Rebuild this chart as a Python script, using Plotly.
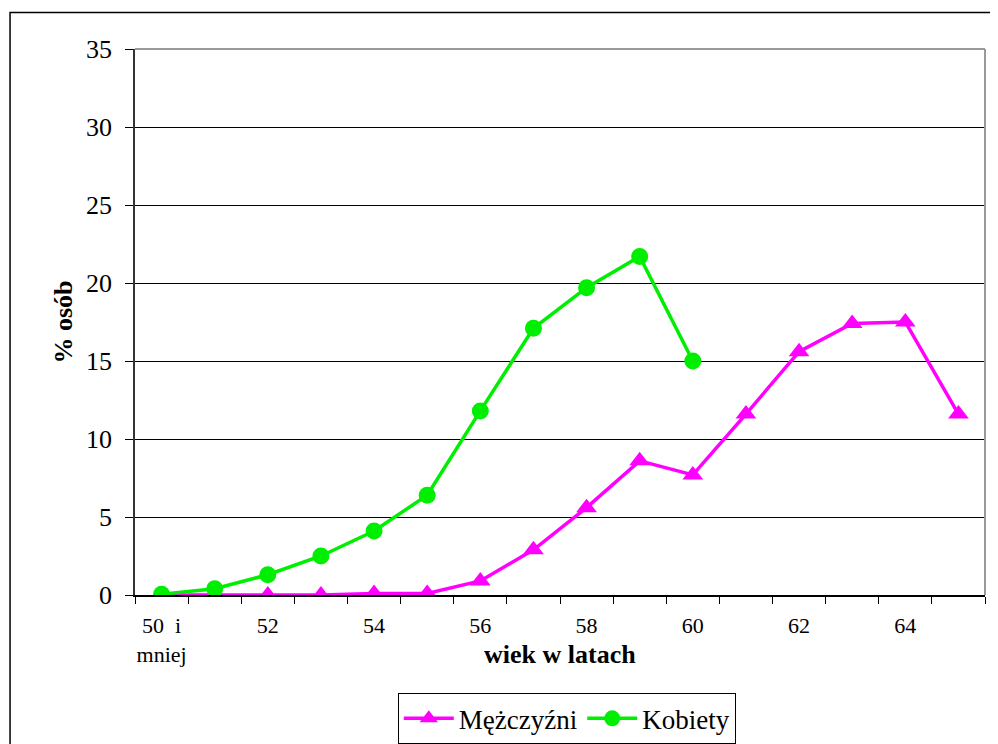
import plotly.graph_objects as go

# age categories (x axis)
wiek = ['50 i mniej'] + [str(a) for a in range(51, 66)]
tick_text = ['50  i<br>mniej', '', '52', '', '54', '', '56', '', '58', '',
             '60', '', '62', '', '64', '']

# % of persons
mezczyzni = [0.0, 0.0, 0.0, 0.0, 0.1, 0.1, 0.9, 2.9, 5.6, 8.6,
             7.7, 11.6, 15.6, 17.4, 17.5, 11.6]
kobiety = [0.05, 0.4, 1.3, 2.5, 4.1, 6.4, 11.8, 17.1, 19.7, 21.7, 15.0]

font_family = 'Times New Roman, Liberation Serif, serif'

fig = go.Figure()
fig.add_trace(go.Scatter(
    x=wiek, y=mezczyzni, name='Mężczyźni', mode='lines+markers',
    line={'color': '#FF00FF', 'width': 3.5},
    marker={'symbol': 'triangle-up', 'size': 18, 'color': '#FF00FF'},
))
fig.add_trace(go.Scatter(
    x=wiek[:len(kobiety)], y=kobiety, name='Kobiety', mode='lines+markers',
    line={'color': '#00EE00', 'width': 3.5},
    marker={'symbol': 'circle', 'size': 17, 'color': '#00EE00'},
))

# page body has an 8px margin, so margins are shifted accordingly
fig.update_layout(
    width=998, height=744,
    margin={'l': 127, 'r': 21, 't': 41, 'b': 157, 'autoexpand': False},
    plot_bgcolor='#FFFFFF', paper_bgcolor='#FFFFFF',
    font={'family': font_family, 'color': '#000000', 'size': 22},
    showlegend=True,
    legend={'orientation': 'h', 'x': 0.508, 'xanchor': 'center',
            'y': -0.18, 'yanchor': 'top',
            'bordercolor': '#000000', 'borderwidth': 1,
            'font': {'size': 27, 'family': font_family},
            'itemwidth': 50, 'tracegroupgap': 0},
    annotations=[
        {'text': '<b>wiek w latach</b>', 'xref': 'paper', 'yref': 'paper',
         'x': 0.5, 'y': -0.109, 'xanchor': 'center', 'yanchor': 'middle',
         'showarrow': False, 'font': {'size': 26}},
    ],
    shapes=[
        # outer frame
        {'type': 'rect', 'xref': 'paper', 'yref': 'paper',
         'x0': -0.147, 'x1': 1.05, 'y0': -0.3, 'y1': 1.067,
         'line': {'color': '#000000', 'width': 1.5}},
        # grey plot border (top and right)
        {'type': 'line', 'xref': 'paper', 'yref': 'paper',
         'x0': 0, 'x1': 1, 'y0': 1, 'y1': 1,
         'line': {'color': '#999999', 'width': 2}},
        {'type': 'line', 'xref': 'paper', 'yref': 'paper',
         'x0': 1, 'x1': 1, 'y0': 0, 'y1': 1,
         'line': {'color': '#999999', 'width': 2}},
    ],
)

fig.update_xaxes(
    type='category', categoryorder='array', categoryarray=wiek,
    range=[-0.5, 15.5], automargin=False,
    tickmode='array', tickvals=wiek, ticktext=tick_text, tickangle=0,
    tickson='boundaries', ticks='outside', ticklen=7, tickcolor='#000000',
    tickfont={'size': 22}, ticklabelstandoff=10,
    showline=True, linecolor='#000000', linewidth=1.5,
    showgrid=False, zeroline=False,
)
fig.update_yaxes(
    range=[0, 35], tickvals=[0, 5, 10, 15, 20, 25, 30, 35], automargin=False,
    ticks='outside', ticklen=8, tickcolor='#000000',
    tickfont={'size': 26}, ticklabelstandoff=8,
    showline=True, linecolor='#333333', linewidth=1.5,
    showgrid=True, gridcolor='#000000', gridwidth=1,
    zeroline=False,
    title={'text': '<b>% osób</b>', 'font': {'size': 26}, 'standoff': 6},
)

fig.write_html('out.html')
